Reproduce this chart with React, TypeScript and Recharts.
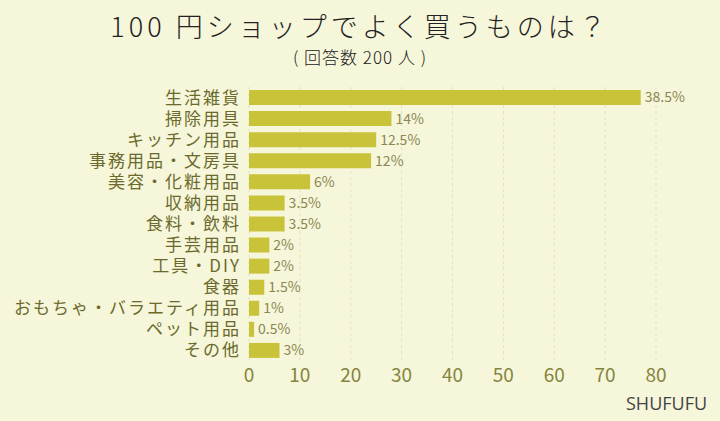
import { BarChart, Bar, XAxis, YAxis, CartesianGrid, LabelList } from "recharts";

const categories = [
  "生活雑貨",
  "掃除用具",
  "キッチン用品",
  "事務用品・文房具",
  "美容・化粧用品",
  "収納用品",
  "食料・飲料",
  "手芸用品",
  "工具・DIY",
  "食器",
  "おもちゃ・バラエティ用品",
  "ペット用品",
  "その他",
];
const percents = [38.5, 14, 12.5, 12, 6, 3.5, 3.5, 2, 2, 1.5, 1, 0.5, 3];
// number of respondents (out of 200) drawn as bar length
const counts = [77, 28, 25, 24, 12, 7, 7, 4, 4, 3, 2, 1, 6];
const xTicks = [0, 10, 20, 30, 40, 50, 60, 70, 80];

const data = categories.map((name, i) => ({
  name,
  count: counts[i],
  pct: percents[i],
}));

const font = '"Noto Sans CJK JP", "Noto Sans", sans-serif';

function CatTick({ x, y, payload }: any) {
  return (
    <text
      x={x}
      y={y}
      dy={6}
      textAnchor="end"
      fill="#6b6a2c"
      fontSize={17}
      fontFamily={font}
      style={{ letterSpacing: 2 }}
    >
      {payload.value}
    </text>
  );
}

export default function App() {
  return (
    <div
      style={{
        position: "absolute",
        left: 0,
        top: 0,
        width: 720,
        height: 421,
        background: "#f6f6da",
        fontFamily: font,
      }}
    >
      <div
        style={{
          position: "absolute",
          top: 8,
          width: 720,
          textAlign: "center",
          fontSize: 27,
          fontWeight: 300,
          color: "#222",
          letterSpacing: 4,
          lineHeight: "36px",
        }}
      >
        100 円ショップでよく買うものは？
      </div>
      <div
        style={{
          position: "absolute",
          top: 45,
          width: 720,
          textAlign: "center",
          fontSize: 17,
          fontWeight: 300,
          color: "#222",
          letterSpacing: 1,
          lineHeight: "24px",
        }}
      >
        ( 回答数 200 人 )
      </div>
      <div style={{ position: "absolute", left: 0, top: 0 }}>
        <BarChart
          width={720}
          height={421}
          data={data}
          layout="vertical"
          margin={{ top: 87, right: 64, bottom: 30, left: 0 }}
          barSize={15}
        >
          <CartesianGrid horizontal={false} stroke="#e2e2c2" strokeDasharray="3 3" />
          <XAxis
            type="number"
            domain={[0, 80]}
            ticks={xTicks}
            axisLine={false}
            tickLine={false}
            tickMargin={2}
            height={30}
            tick={{ fill: "#85853f", fontSize: 19, fontFamily: font }}
          />
          <YAxis
            type="category"
            dataKey="name"
            width={249}
            axisLine={false}
            tickLine={false}
            tickMargin={2}
            interval={0}
            tick={<CatTick />}
          />
          <Bar dataKey="count" fill="#c9c33a" isAnimationActive={false}>
            <LabelList
              dataKey="pct"
              position="right"
              offset={4}
              formatter={(v: any) => `${v}%`}
              style={{ fill: "#8a8752", fontSize: 14, fontFamily: font }}
            />
          </Bar>
        </BarChart>
      </div>
      <div
        style={{
          position: "absolute",
          left: 626,
          top: 391,
          fontSize: 18,
          color: "#444",
          fontFamily: '"Open Sans", sans-serif',
        }}
      >
        SHUFUFU
      </div>
    </div>
  );
}
